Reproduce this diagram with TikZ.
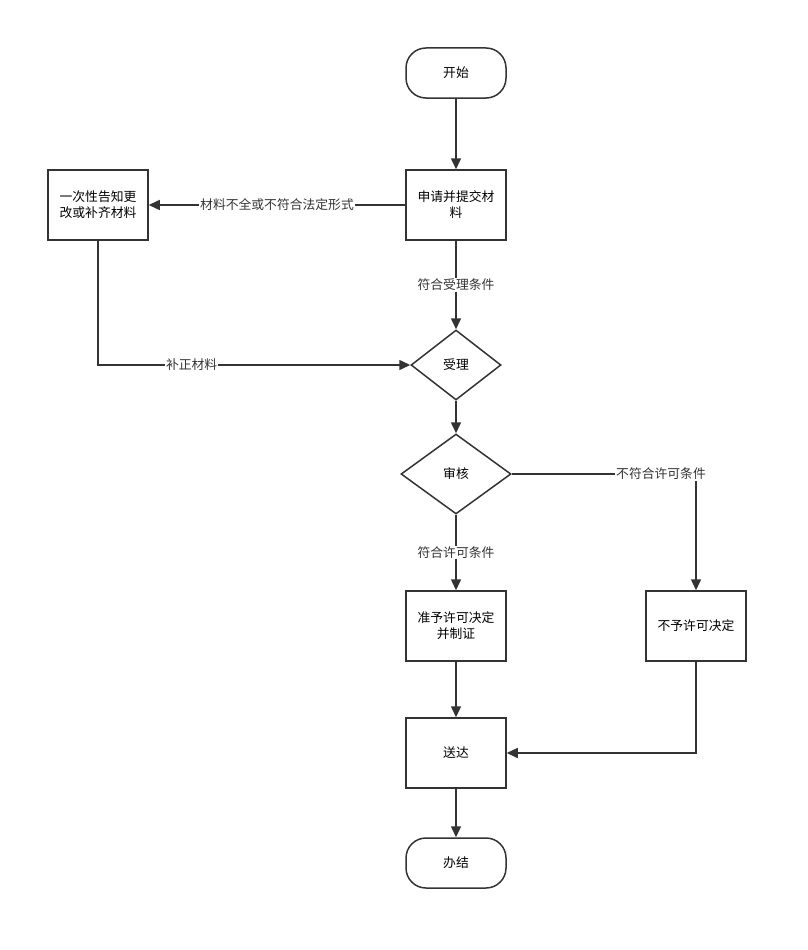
\documentclass[tikz,border=0pt]{standalone}
\usepackage{fontspec}
\setmainfont{Noto Sans CJK SC}
\usetikzlibrary{shapes.geometric,arrows.meta}
\definecolor{linegray}{HTML}{333333}

\begin{document}
\begin{tikzpicture}[x=1pt,y=-1pt,font=\fontsize{12.8}{16}\selectfont,
  box/.style={draw=linegray,line width=1.5pt,minimum width=100pt,minimum height=70pt,align=center,inner sep=2pt},
  term/.style={draw=linegray,line width=1.5pt,minimum width=100pt,minimum height=50pt,rounded corners=20pt},
  test/.style={draw=linegray,line width=1.5pt,diamond,inner sep=0pt},
  flow/.style={linegray,line width=1.5pt,-{Triangle[length=11pt,width=10pt]}},
  lbl/.style={fill=white,inner sep=1pt}]
  \useasboundingbox (0,0) rectangle (808,950);
  % nodes
  \node[term] (start) at (456,73) {开始};
  \node[box] (apply) at (456,205) {申请并提交材\\料};
  \node[box] (fix) at (98,205) {一次性告知更\\改或补齐材料};
  \node[test,minimum width=90pt,minimum height=70pt] (accept) at (456,365) {受理};
  \node[test,minimum width=110pt,minimum height=80pt] (review) at (456,474) {审核};
  \node[box] (grant) at (456,626) {准予许可决定\\并制证};
  \node[box] (deny) at (696,626) {不予许可决定};
  \node[box] (deliver) at (456,753) {送达};
  \node[term] (finish) at (456,863) {办结};
  % connectors
  \draw[flow] (start) -- (apply);
  \draw[flow] (apply) -- node[lbl] {材料不全或不符合法定形式} (fix);
  \draw[flow] (apply) -- node[lbl] {符合受理条件} (accept);
  \draw[flow] (fix.south) |- node[lbl,pos=0.65] {补正材料} (accept.west);
  \draw[flow] (accept) -- (review);
  \draw[flow] (review) -- node[lbl] {符合许可条件} (grant);
  \draw[flow] (review.east) -| node[lbl,pos=0.405] {不符合许可条件} (deny.north);
  \draw[flow] (grant) -- (deliver);
  \draw[flow] (deny.south) |- (deliver.east);
  \draw[flow] (deliver) -- (finish);
\end{tikzpicture}
\end{document}
